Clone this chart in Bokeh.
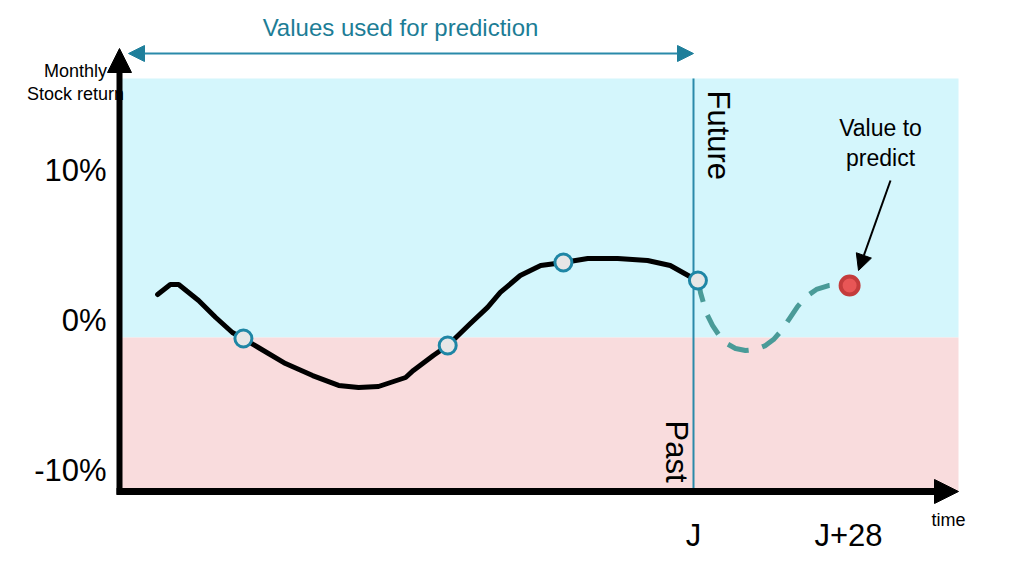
import math
from bokeh.plotting import figure
from bokeh.models import Range1d, Arrow, NormalHead, Label
from bokeh.core.properties import value
from bokeh.embed import file_html
from bokeh.resources import INLINE

# ---------------- data (time in months relative to J, return in %) ----------------
past_t = [-96.8, -94.5, -93.0, -89.4, -86.3, -83.3, -81.3, -78.6, -73.7, -68.8, -64.1,
          -60.5, -56.9, -52.0, -50.6, -47.0, -44.4, -40.3, -37.2, -34.9, -31.3, -27.6,
          -23.5, -19.1, -13.7, -8.3, -4.2, 0.0]
past_r = [1.73, 2.4, 2.4, 1.33, 0.2, -0.8, -1.2, -1.8, -2.87, -3.67, -4.33,
          -4.47, -4.4, -3.8, -3.33, -2.33, -1.67, -0.2, 0.87, 1.87, 3.0, 3.67,
          3.87, 4.13, 4.13, 4.0, 3.67, 2.8]

sample_t = [-81.3, -44.4, -23.5, 0.8]
sample_r = [-1.2, -1.67, 3.87, 2.67]

future_t = [0.9, 1.26, 2.35, 3.43, 4.52, 5.96, 7.59, 9.39, 11.2, 13.0, 14.45, 15.9,
            17.34, 18.79, 20.4, 22.2, 24.4, 26.2, 28.2]
future_r = [2.67, 1.87, 0.47, -0.33, -0.93, -1.53, -1.87, -2.0, -1.93, -1.67, -1.27, -0.67,
            0.13, 0.93, 1.6, 2.07, 2.33, 2.4, 2.33]

target_t = [28.2]
target_r = [2.33]

y_tick_values = [10, 0, -10]
y_tick_labels = ["10%", "0%", "-10%"]
x_tick_values = [0, 28]
x_tick_labels = ["J", "J+28"]

# ---------------- layout helpers (pixel -> data) ----------------
W, H = 1024, 574
PX_PER_MONTH = 5.536
PX_PER_PCT = 15.0
X0_PX = 693.0   # pixel of J
Y0_PX = 320.0   # pixel of 0 %

def px2x(px):
    return (px - X0_PX) / PX_PER_MONTH

def px2y(py):
    return (Y0_PX - py) / PX_PER_PCT

FONT = value("Liberation Sans")

p = figure(width=W, height=H, x_range=Range1d(px2x(0), px2x(W)),
           y_range=Range1d(px2y(H), px2y(0)), x_axis_type=None, y_axis_type=None,
           min_border=0, toolbar_location=None, output_backend="svg",
           background_fill_color="white", border_fill_color="white")
p.grid.visible = False
p.outline_line_color = None

# background bands
band_left, band_right = px2x(120), px2x(958)
band_top, band_mid, band_bot = px2y(78), px2y(337), px2y(491)
p.quad(left=[band_left], right=[band_right], top=[band_top], bottom=[band_mid],
       fill_color="#d4f6fc", line_color=None)
p.quad(left=[band_left], right=[band_right], top=[band_mid], bottom=[band_bot],
       fill_color="#f9dcdd", line_color=None)

# vertical J line
p.segment(x0=[0], y0=[band_top], x1=[0], y1=[band_bot], line_color="#2a8aaa", line_width=2)

# axes arrows
p.add_layout(Arrow(x_start=px2x(119), y_start=px2y(494), x_end=px2x(119), y_end=px2y(48),
                   line_color="black", line_width=6,
                   end=NormalHead(size=24, fill_color="black", line_color="black")))
p.add_layout(Arrow(x_start=px2x(116), y_start=px2y(491), x_end=px2x(958), y_end=px2y(491),
                   line_color="black", line_width=7,
                   end=NormalHead(size=24, fill_color="black", line_color="black")))

# top double arrow
teal = "#1f7f9b"
p.add_layout(Arrow(x_start=px2x(128), y_start=px2y(53), x_end=px2x(693), y_end=px2y(53),
                   line_color="#2a8aaa", line_width=2,
                   start=NormalHead(size=16, fill_color=teal, line_color=teal),
                   end=NormalHead(size=16, fill_color=teal, line_color=teal)))

# curves
p.line(past_t, past_r, line_color="black", line_width=5, line_join="round", line_cap="round")
p.line(future_t, future_r, line_color="#4a9b98", line_width=5, line_dash="22 14",
       line_join="round")
p.scatter(sample_t, sample_r, size=17, fill_color="#e6e6e6", line_color="#1e86a5",
          line_width=3)
p.scatter(target_t, target_r, size=18, fill_color="#e85656", line_color="#c43c3c",
          line_width=4)

# value-to-predict arrow
p.add_layout(Arrow(x_start=px2x(890), y_start=px2y(180), x_end=px2x(858), y_end=px2y(270),
                   line_color="black", line_width=2,
                   end=NormalHead(size=16, fill_color="black", line_color="black")))

# tick labels
p.text(x=[px2x(106)] * len(y_tick_values), y=y_tick_values, text=y_tick_labels,
       text_font=FONT, text_font_size=value("31px"), text_align="right",
       text_baseline="middle", text_color="black")
p.text(x=x_tick_values, y=[px2y(535)] * len(x_tick_values), text=x_tick_labels,
       text_font=FONT, text_font_size=value("31px"), text_align="center",
       text_baseline="middle", text_color="black")

def lab(x, y, text, size, color="black", align="center", angle=0.0):
    p.add_layout(Label(x=px2x(x), y=px2y(y), text=text, text_font="Liberation Sans",
                       text_font_size=size, text_color=color, text_align=align,
                       text_baseline="middle", angle=angle))

lab(400, 27, "Values used for prediction", "24px", color="#1c7d96")
lab(75, 70, "Monthly", "18px")
lab(75, 93, "Stock return", "18px")
lab(948, 519, "time", "18px")
lab(880, 127, "Value to", "23px")
lab(880, 157, "predict", "23px")
lab(718, 90, "Future", "31px", align="left", angle=-math.pi / 2)
lab(676, 420, "Past", "31px", align="left", angle=-math.pi / 2)

open("out.html", "w").write(file_html(p, INLINE))
